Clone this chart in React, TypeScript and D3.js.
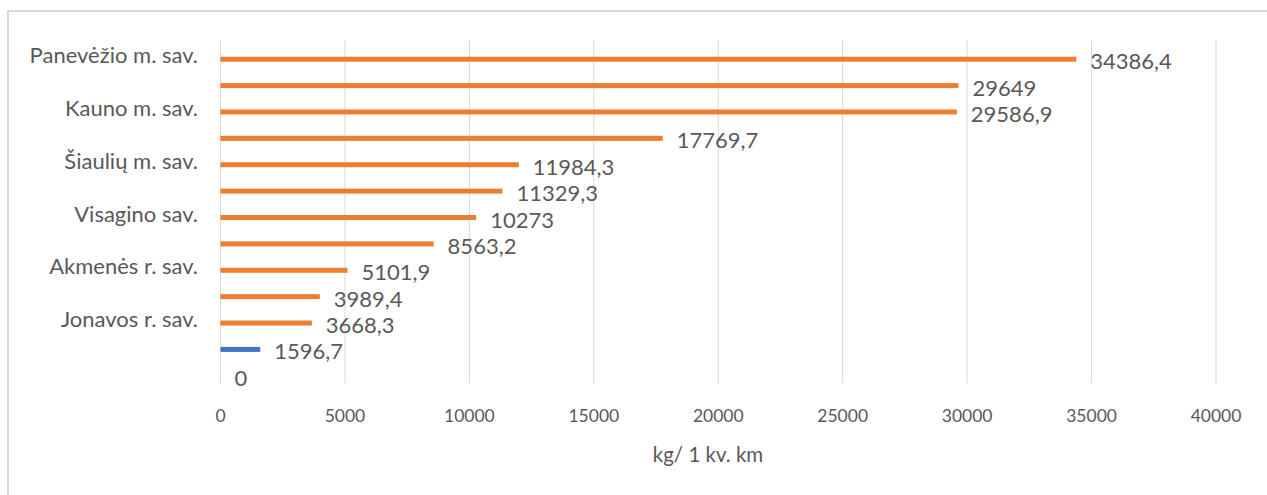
import React from "react";
import * as d3 from "d3";

const categories = [
  "Panevėžio m. sav.",
  "",
  "Kauno m. sav.",
  "",
  "Šiaulių m. sav.",
  "",
  "Visagino sav.",
  "",
  "Akmenės r. sav.",
  "",
  "Jonavos r. sav.",
  "",
  "",
];
const values = [34386.4, 29649, 29586.9, 17769.7, 11984.3, 11329.3, 10273, 8563.2, 5101.9, 3989.4, 3668.3, 1596.7, 0];
const valueLabels = ["34386,4", "29649", "29586,9", "17769,7", "11984,3", "11329,3", "10273", "8563,2", "5101,9", "3989,4", "3668,3", "1596,7", "0"];
const highlighted = [false, false, false, false, false, false, false, false, false, false, false, true, false];
const xTicks = [0, 5000, 10000, 15000, 20000, 25000, 30000, 35000, 40000];
const axisTitle = "kg/ 1 kv. km";

const W = 1267;
const H = 495;
const FONT = "Lato, 'Open Sans', sans-serif";
const TEXT = "#595959";
const ORANGE = "#ED7D31";
const BLUE = "#4472C4";

export default function App() {
  const x = d3.scaleLinear().domain([0, 40000]).range([220.5, 1216]);
  const y = d3
    .scaleBand<number>()
    .domain(categories.map((_, i) => i))
    .range([40, 383])
    .padding(0);
  const bw = y.bandwidth();
  const barH = 5;
  const barOffset = 6;

  return (
    <svg
      width={W}
      height={H}
      style={{ position: "absolute", left: 0, top: 0, background: "#fff" }}
      fontFamily={FONT}
    >
      <rect x={8} y={11} width={W + 10} height={H} fill="#fff" stroke="#d9d9d9" strokeWidth={2} />
      {xTicks.map((t) => (
        <line key={"g" + t} x1={x(t)} x2={x(t)} y1={40} y2={383} stroke="#d9d9d9" strokeWidth={1} />
      ))}
      {values.map((v, i) => {
        const cy = (y(i) as number) + bw / 2 + barOffset;
        return (
          <g key={"b" + i}>
            <rect
              x={x(0)}
              y={cy - barH / 2}
              width={Math.max(0, x(v) - x(0))}
              height={barH}
              fill={highlighted[i] ? BLUE : ORANGE}
            />
            <text
              x={x(v) + 14}
              y={cy + 1.5}
              dominantBaseline="central"
              fontSize={22}
              fill={TEXT}
            >
              {valueLabels[i]}
            </text>
          </g>
        );
      })}
      {categories.map((c, i) =>
        c ? (
          <text
            key={"c" + i}
            x={198}
            y={(y(i) as number) + bw / 2 + 1.5}
            textAnchor="end"
            dominantBaseline="central"
            fontSize={22}
            fill={TEXT}
          >
            {c}
          </text>
        ) : null
      )}
      {xTicks.map((t) => (
        <text
          key={"t" + t}
          x={x(t)}
          y={415}
          textAnchor="middle"
          dominantBaseline="central"
          fontSize={17.5}
          fill={TEXT}
        >
          {t}
        </text>
      ))}
      <text x={708} y={454} textAnchor="middle" dominantBaseline="central" fontSize={20.5} fill={TEXT}>
        {axisTitle}
      </text>
    </svg>
  );
}
